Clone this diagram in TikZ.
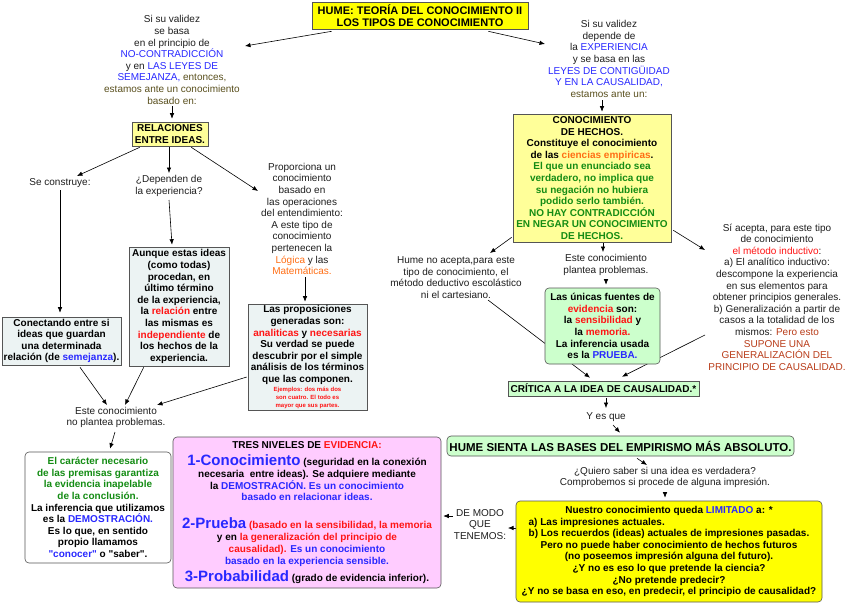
\documentclass[tikz,border=0pt]{standalone}
\usepackage{fontspec}
\setmainfont{Liberation Sans}
\usepackage{calc}
\usetikzlibrary{arrows.meta,calc,backgrounds}
\definecolor{tblue}{RGB}{40,40,255}
\definecolor{tred}{RGB}{255,20,20}
\definecolor{tgreen}{RGB}{20,140,20}
\definecolor{torange}{RGB}{255,110,20}
\definecolor{tbrown}{RGB}{185,60,25}
\definecolor{tolive}{RGB}{90,80,30}
\definecolor{tgray}{RGB}{30,30,30}
\definecolor{bordc}{RGB}{85,85,85}
\definecolor{yel}{RGB}{255,255,0}
\definecolor{lyel}{RGB}{255,255,153}
\definecolor{lgray}{RGB}{236,243,243}
\definecolor{lgreen}{RGB}{204,255,204}
\definecolor{lpink}{RGB}{255,204,255}
\newcommand\blu[1]{\textcolor{tblue}{#1}}
\newcommand\rd[1]{\textcolor{tred}{#1}}
\newcommand\grn[1]{\textcolor{tgreen}{#1}}
\newcommand\org[1]{\textcolor{torange}{#1}}
\newcommand\brn[1]{\textcolor{tbrown}{#1}}
\newcommand\olv[1]{\textcolor{tolive}{#1}}
\newcommand\bigf[1]{{\fontsize{15}{15}\selectfont #1}}
\newcommand\dq{\XeTeXglyph\XeTeXcharglyph"22\relax}
\tikzset{
  txt/.style={inner sep=0pt, align=center, font=\fontsize{10}{11.6}\selectfont, text=tgray},
  bx/.style={draw=bordc, line width=0.6pt, inner sep=0pt, align=center,
    font=\bfseries\fontsize{10}{11.6}\selectfont, text=black},
  rbx/.style={bx, rounded corners=4pt},
  arr/.style={-{Latex[length=5.5pt,width=4.5pt]}, line width=0.6pt, black}
}
\begin{document}
\begin{tikzpicture}[x=1pt,y=-1pt]
\useasboundingbox (0,0) rectangle (848,603);
\begin{scope}[on background layer]
\fill[white] (0,0) rectangle (848,603);
\end{scope}

% ---------- title ----------
\node[bx, fill=yel, minimum width=216, minimum height=27,
  font=\bfseries\fontsize{11}{12.5}\selectfont] (title) at (420,15.5)
  {HUME: TEORÍA DEL CONOCIMIENTO II\\LOS TIPOS DE CONOCIMIENTO};

% ---------- left branch ----------
\node[txt] (lt) at (172,60) {Si su validez\\ se basa\\ en el principio de\\
  \blu{NO-CONTRADICCIÓN}\\ y en \blu{LAS LEYES DE}\\ \blu{SEMEJANZA,} \olv{entonces,}\\
  \olv{estamos ante un conocimiento}\\ \olv{basado en:}};

\node[bx, fill=lyel, minimum width=76, minimum height=24] (rel) at (170,134)
  {RELACIONES\\ENTRE IDEAS.};

\node[txt] (sc) at (60,183) {Se construye:};
\node[txt] (dep) at (169,186) {¿Dependen de\\la experiencia?};
\node[txt] (prop) at (302,219) {Proporciona un\\ conocimiento\\ basado en\\ las operaciones\\
  del entendimiento:\\ A este tipo de\\ conocimiento\\ pertenecen la\\
  \org{Lógica} y las\\ \org{Matemáticas.}};

\node[bx, fill=lgray, minimum width=119, minimum height=48] (con) at (61.5,341)
  {Conectando entre si\\ ideas que guardan\\ una determinada\\ relación (de \blu{semejanza}).};

\node[bx, fill=lgray, minimum width=100, minimum height=119] (aun) at (179,306.5)
  {Aunque estas ideas\\ (como todas)\\ procedan, en\\ último término\\ de la experiencia,\\
   la \rd{relación} entre\\ las mismas es\\ \rd{independiente} de\\ los hechos de la\\ experiencia.};

\node[bx, fill=lgray, minimum width=119, minimum height=106] (pro) at (307.5,357)
  {Las proposiciones\\ generadas son:\\ \rd{analiticas} y \rd{necesarias}\\ Su verdad se puede\\
   descubrir por el simple\\ análisis de los términos\\ que las componen.\\[-3pt]
   {\fontsize{6}{8}\selectfont\rd{Ejemplos: dos más dos}}\\[-3.6pt]
   {\fontsize{6}{8}\selectfont\rd{son cuatro. El todo es}}\\[-3.6pt]
   {\fontsize{6}{8}\selectfont\rd{mayor que sus partes.}}};

\node[txt] (np) at (116,417.5) {Este conocimiento\\no plantea problemas.};

\node[rbx, fill=white, minimum width=146, minimum height=111] (car) at (98,507.5)
  {\grn{El carácter necesario}\\ \grn{de las premisas garantiza}\\ \grn{la evidencia inapelable}\\
   \grn{de la conclusión.}\\ La inferencia que utilizamos\\ es la \blu{DEMOSTRACIÓN.}\\
   Es lo que, en sentido\\ propio llamamos\\ \blu{\dq conocer\dq} o \dq saber\dq.};

\node[rbx, fill=lpink, minimum width=268, minimum height=151,
  font=\bfseries\fontsize{10}{11.8}\selectfont] (pink) at (307,512.5)
  {TRES NIVELES DE \rd{EVIDENCIA:}\\[5pt]
   \bigf{\blu{1-Conocimiento}} (seguridad en la conexión\\
   necesaria\ \ entre ideas). Se adquiere mediante\\
   la \blu{DEMOSTRACIÓN. Es un conocimiento}\\
   \blu{basado en relacionar ideas.}\\[16pt]
   \bigf{\blu{2-Prueba}} \rd{(basado en la sensibilidad, la memoria}\\
   y en \rd{la generalización del principio de}\\
   \rd{causalidad).} \blu{Es un conocimiento}\\
   \blu{basado en la experiencia sensible.}\\[3pt]
   \bigf{\blu{3-Probabilidad}} (grado de evidencia inferior).};

% ---------- right branch ----------
\node[txt] (rt) at (609,59) {Si su validez\\ depende de\\ la \blu{EXPERIENCIA}\\ y se basa en las\\
  \blu{LEYES DE CONTIGÜIDAD}\\ \blu{Y EN LA CAUSALIDAD,}\\ \olv{estamos ante un:}};

\node[bx, fill=lyel, minimum width=158, minimum height=128] (cdh) at (592,178)
  {CONOCIMIENTO\\ DE HECHOS.\\ Constituye el conocimiento\\ de las \org{ciencias empiricas}.\\
   \grn{El que un enunciado sea}\\ \grn{verdadero, no implica que}\\ \grn{su negación no hubiera}\\
   \grn{podido serlo también.}\\ \grn{NO HAY CONTRADICCIÓN}\\ \grn{EN NEGAR UN CONOCIMIENTO}\\
   \grn{DE HECHOS.}};

\node[txt] (hna) at (456,277.5) {Hume no acepta,para este\\ tipo de conocimiento, el\\
  método deductivo escolástico\\ ni el cartesiano.};
\node[txt] (ecp) at (606,265) {Este conocimiento\\plantea problemas.};

\node[rbx, fill=lgreen, minimum width=115, minimum height=76] (gb) at (602.5,326)
  {Las únicas fuentes de\\ \rd{evidencia} son:\\ la \rd{sensibilidad} y\\ la \rd{memoria.}\\
   La inferencia usada\\ es la \blu{PRUEBA.}};

\node[txt] (sia) at (777,297) {Sí acepta, para este tipo\\ de conocimiento\\ \rd{el método inductivo}:\\
  a) El analítico inductivo:\\ descompone la experiencia\\ en sus elementos para\\
  obtener principios generales.\\ b) Generalización a partir de\\ casos a la totalidad de los\\
  mismos: \brn{Pero esto}\\ \brn{SUPONE UNA}\\ \brn{GENERALIZACIÓN DEL}\\ \brn{PRINCIPIO DE CAUSALIDAD.}};

\node[bx, fill=lgreen, minimum width=191, minimum height=15] (cri) at (603.5,388.5)
  {CRÍTICA A LA IDEA DE CAUSALIDAD.*};

\node[txt] (yes) at (606,417) {Y es que};

\node[rbx, fill=lgreen, minimum width=347, minimum height=20,
  font=\bfseries\fontsize{11.5}{13}\selectfont] (hs) at (620.5,446)
  {HUME SIENTA LAS BASES DEL EMPIRISMO MÁS ABSOLUTO.};

\node[txt] (qs) at (665,477.5) {¿Quiero saber si una idea es verdadera?\\
  Comprobemos si procede de alguna impresión.};

\node[rbx, fill=yel, minimum width=306, minimum height=101] (bot) at (669,551.5)
  {Nuestro conocimiento queda \blu{LIMITADO} a: *\\
   \makebox[\widthof{b) Los recuerdos (ideas) actuales de impresiones pasadas.}][l]{a) Las impresiones actuales.}\\
   b) Los recuerdos (ideas) actuales de impresiones pasadas.\\
   Pero no puede haber conocimiento de hechos futuros\\
   (no poseemos impresión alguna del futuro).\\
   ¿Y no es eso lo que pretende la ciencia?\\
   ¿No pretende predecir?\\
   ¿Y no se basa en eso, en predecir, el principio de causalidad?};

\node[txt] (dm) at (480,524.5) {DE MODO\\QUE\\TENEMOS:};

% ---------- connectors ----------
\begin{scope}[on background layer]
\draw[arr] ($(title.south west)+(20,2)$) -- ($(lt)+(73,-14)$);
\draw[arr] ($(title.south east)+(-40,2)$) -- ($(rt)+(-64,-15)$);
\draw[arr] ($(lt)+(0,46)$) -- ($(rel.north)+(2,-3)$);
\draw[arr] ($(rel.south west)+(8,1)$) -- ($(sc)+(17,-7)$);
\draw[arr] ($(rel.south)+(-1,1)$) -- ($(dep)+(0,-13)$);
\draw[arr] ($(rel.south east)+(-17,1)$) -- ($(prop)+(-44,-28)$);
\draw[arr] ($(sc)+(0,7)$) -- ($(con.north)+(-1.5,-4)$);
\draw[arr] ($(dep)+(0,14)$) -- ($(aun.north)+(-7,-2)$);
\draw[arr] ($(prop)+(3,58)$) -- ($(pro.north)+(-2.5,-2)$);
\draw[arr] ($(con.south)+(18.5,2)$) -- ($(np)+(-9,-12.5)$);
\draw[arr] ($(aun.south west)+(15,1)$) -- ($(np)+(9,-12.5)$);
\draw[arr] ($(pro.west)+(-1,20)$) -- ($(np)+(41,-12.5)$);
\draw[arr] ($(np)+(-1,14.5)$) -- ($(car.north)+(12,-3)$);
\draw[arr] ($(rt)+(-7,41)$) -- ($(cdh.north)+(10,-2)$);
\draw[arr] ($(cdh.south west)+(-1,-5)$) -- ($(hna)+(34,-24.5)$);
\draw[arr] ($(cdh.south)+(11,1)$) -- ($(ecp)+(-3,-13)$);
\draw[arr] ($(cdh.south east)+(2,-12)$) -- ($(sia)+(-72,-47)$);
\draw[arr] ($(ecp)+(0,15)$) -- ($(gb.north)+(3.5,-3)$);
\draw[arr] ($(hna)+(32,22.5)$) -- ($(cri.north)+(-13.5,-3)$);
\draw[arr] ($(sia)+(-72,38)$) -- ($(cri.north)+(18.5,-4)$);
\draw[arr] ($(cri.south)+(2.5,2)$) -- ($(yes)+(0,-9)$);
\draw[arr] ($(yes)+(7,8)$) -- ($(hs.north)+(-0.5,-3)$);
\draw[arr] ($(hs.south)+(16.5,2)$) -- ($(qs)+(-18,-12.5)$);
\draw[arr] ($(qs)+(0,14.5)$) -- ($(bot.north)+(-4,-3)$);
\draw[arr] ($(bot.west)+(0,-23.5)$) -- ($(dm)+(28,3.5)$);
\draw[arr] ($(dm)+(-27,-8.5)$) -- ($(pink.east)+(2,3.5)$);
\end{scope}
\end{tikzpicture}
\end{document}
